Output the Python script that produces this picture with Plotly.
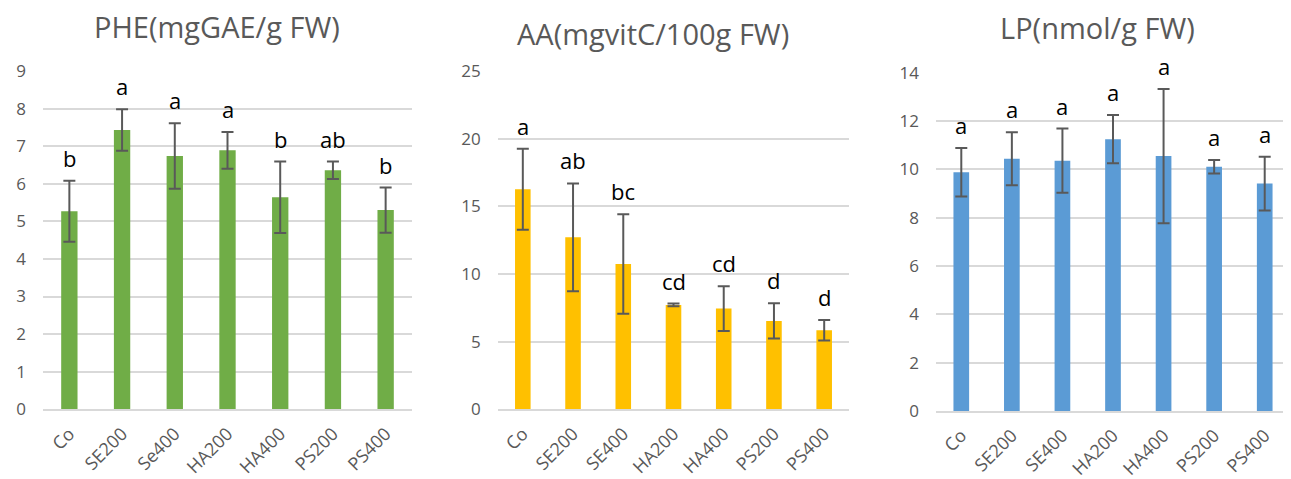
import plotly.graph_objects as go

categories = ["Co", "SE200", "Se400", "HA200", "HA400", "PS200", "PS400"]
categories_aa = ["Co", "SE200", "SE400", "HA200", "HA400", "PS200", "PS400"]
categories_lp = ["Co", "SE200", "SE400", "HA200", "HA400", "PS200", "PS400"]

phe_values = [5.27, 7.43, 6.74, 6.89, 5.64, 6.36, 5.30]
phe_errors = [0.81, 0.55, 0.87, 0.49, 0.95, 0.23, 0.60]
phe_letters = ["b", "a", "a", "a", "b", "ab", "b"]

aa_values = [16.26, 12.71, 10.74, 7.71, 7.44, 6.53, 5.84]
aa_errors = [3.00, 3.98, 3.67, 0.10, 1.66, 1.30, 0.76]
aa_letters = ["a", "ab", "bc", "cd", "cd", "d", "d"]

lp_values = [9.88, 10.44, 10.36, 11.25, 10.55, 10.11, 9.41]
lp_errors = [1.00, 1.10, 1.33, 1.00, 2.78, 0.28, 1.11]
lp_letters = ["a", "a", "a", "a", "a", "a", "a"]

titles = ["PHE(mgGAE/g FW)", "AA(mgvitC/100g FW)", "LP(nmol/g FW)"]

# page body has an 8px default margin; figure is sized to fill the rest
OFF = 8
W, H = 1291 - OFF, 479 - OFF
FONT = "Open Sans, Noto Sans, sans-serif"
GREY = "#595959"
GRID = "#D9D9D9"


def fx(px):
    return (px - OFF) / W


def fy(py):
    return 1 - (py - OFF) / H


panels = [
    dict(cats=categories, vals=phe_values, errs=phe_errors, letters=phe_letters,
         color="#70AD47", rng=[0, 9], dtick=1,
         px=(43, 412), py=(409.3, 71), title_xy=(216.7, 27)),
    dict(cats=categories_aa, vals=aa_values, errs=aa_errors, letters=aa_letters,
         color="#FFC000", rng=[0, 25], dtick=5,
         px=(497.7, 849.3), py=(409.3, 71), title_xy=(653.3, 34)),
    dict(cats=categories_lp, vals=lp_values, errs=lp_errors, letters=lp_letters,
         color="#5B9BD5", rng=[0, 14], dtick=2,
         px=(936, 1290), py=(411, 72.7), title_xy=(1097, 28)),
]

fig = go.Figure()
annotations = []
for i, p in enumerate(panels, start=1):
    xa = "x" if i == 1 else f"x{i}"
    ya = "y" if i == 1 else f"y{i}"
    fig.add_trace(go.Bar(
        x=p["cats"], y=p["vals"],
        marker=dict(color=p["color"], line=dict(width=0)),
        width=0.31,
        error_y=dict(type="data", array=p["errs"], visible=True,
                     color=GREY, thickness=2, width=6),
        xaxis=xa, yaxis=ya, showlegend=False,
    ))
    for c, v, e, lab in zip(p["cats"], p["vals"], p["errs"], p["letters"]):
        annotations.append(dict(
            x=c, y=v + e, xref=xa, yref=ya, text=lab, showarrow=False,
            yanchor="bottom", yshift=6,
            font=dict(family=FONT, size=22, color="#000000"),
        ))
    tx, ty = p["title_xy"]
    annotations.append(dict(
        x=fx(tx), y=fy(ty), xref="paper", yref="paper", text=titles[i - 1],
        showarrow=False, xanchor="center", yanchor="middle", borderpad=0,
        font=dict(family=FONT, size=29, color=GREY),
    ))
    xkey = "xaxis" if i == 1 else f"xaxis{i}"
    ykey = "yaxis" if i == 1 else f"yaxis{i}"
    fig.update_layout({
        xkey: dict(domain=[fx(p["px"][0]), min(1.0, fx(p["px"][1]))], anchor=ya,
                   automargin=False,
                   tickangle=-45, showline=True, linecolor=GRID, linewidth=2,
                   showgrid=False, ticks="", ticklabelstandoff=5,
                   tickfont=dict(family=FONT, size=18, color=GREY)),
        ykey: dict(domain=[fy(p["py"][0]), fy(p["py"][1])], anchor=xa,
                   automargin=False,
                   range=p["rng"], dtick=p["dtick"], showgrid=True,
                   gridcolor=GRID, gridwidth=2, zeroline=False, showline=False,
                   ticks="", ticklabelstandoff=16,
                   tickfont=dict(family=FONT, size=17, color=GREY)),
    })

fig.update_layout(
    width=W, height=H,
    margin=dict(l=0, r=0, t=0, b=0),
    paper_bgcolor="white", plot_bgcolor="white",
    annotations=annotations,
)

fig.write_html("out.html")
